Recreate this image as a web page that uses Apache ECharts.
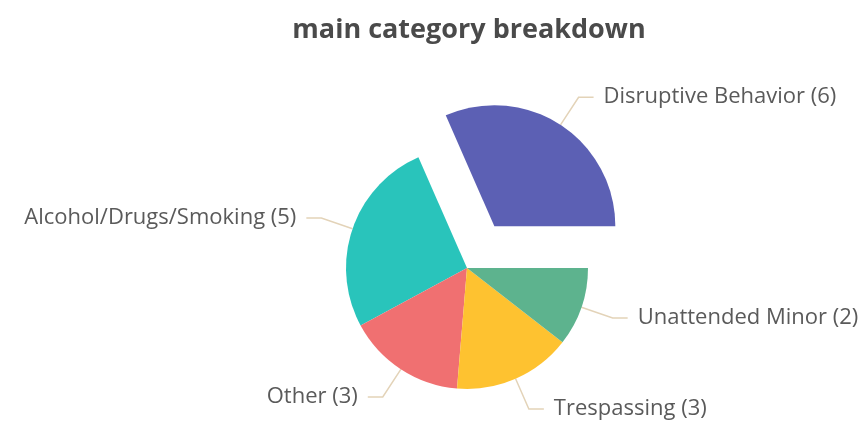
<!DOCTYPE html>
<html>
<head>
<meta charset="utf-8">
<script src="https://cdn.jsdelivr.net/npm/echarts@6/dist/echarts.min.js"></script>
<style>
  html, body { margin: 0; padding: 0; background: #ffffff; }
  #chart { width: 867px; height: 430px; }
</style>
</head>
<body>
<div id="chart"></div>
<script>
// Incident counts per main category
const categories = ['Disruptive Behavior', 'Alcohol/Drugs/Smoking', 'Other', 'Trespassing', 'Unattended Minor'];
const counts = [6, 5, 3, 3, 2];
const colors = ['#5c60b4', '#29c4bb', '#f07071', '#fec230', '#5db38e'];
const highlighted = 'Disruptive Behavior';

const chart = echarts.init(document.getElementById('chart'), null, { renderer: 'canvas' });

const data = categories.map((name, i) => ({
  name: name,
  value: counts[i],
  selected: name === highlighted,
  itemStyle: { color: colors[i] }
}));

chart.setOption({
  animation: false,
  title: {
    text: 'main category breakdown',
    left: 464,
    textAlign: 'center',
    top: 12,
    textStyle: {
      fontFamily: 'Open Sans',
      fontWeight: 'bold',
      fontSize: 27,
      color: '#4a4a4a'
    }
  },
  series: [{
    type: 'pie',
    center: [467, 268],
    radius: 121,
    startAngle: 0,
    clockwise: false,
    selectedMode: 'single',
    selectedOffset: 50,
    avoidLabelOverlap: false,
    data: data,
    label: {
      formatter: '{b} ({c})',
      fontFamily: 'Open Sans',
      fontSize: 22,
      color: '#5a5a5a',
      distanceToLabelLine: 10
    },
    labelLine: {
      length: 33,
      length2: 15,
      lineStyle: { color: '#e3d3b8', width: 1.5 }
    },
    emphasis: { disabled: true }
  }]
});
</script>
</body>
</html>
